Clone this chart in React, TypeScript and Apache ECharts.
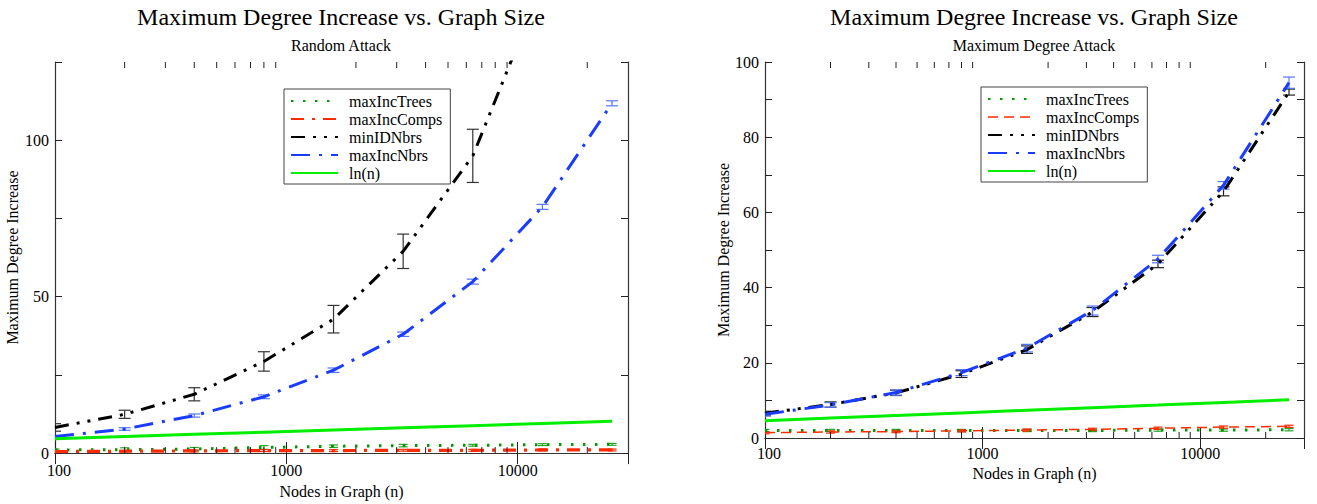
import React, { useEffect, useRef } from 'react';
import * as echarts from 'echarts';

// ---------- data ----------
const nodes = [100, 200, 400, 800, 1600, 3200, 6400, 12800, 25600];
const lnN = [4.61, 5.30, 5.99, 6.68, 7.38, 8.07, 8.76, 9.46, 10.15];

// Random Attack
const raTrees = [1.0, 1.1, 1.3, 1.8, 2.2, 2.4, 2.5, 2.7, 2.8];
const raTreesErr = [0.3, 0.6, 0.5, 0.6, 0.4, 0.4, 0.3, 0.3, 0.3];
const raComps = [0.5, 0.6, 0.7, 0.8, 0.8, 0.9, 0.9, 1.0, 1.0];
const raCompsErr = [0.2, 0.2, 0.3, 0.3, 0.3, 0.3, 0.3, 0.3, 0.3];
const raMinID = [8.2, 12.4, 18.8, 29.3, 42.8, 64.5, 95.0, 150, 230];
const raMinIDErr = [1.2, 1.3, 2.1, 3.1, 4.4, 5.5, 8.5, 12, 18];
const raMaxInc = [5.3, 7.7, 12.0, 18.0, 26.5, 38.0, 54.8, 78.7, 111.8];
const raMaxIncErr = [0.3, 0.4, 0.5, 0.6, 0.7, 0.7, 0.8, 0.8, 0.8];

// Maximum Degree Attack
const mdTrees = [2.0, 2.0, 2.0, 2.0, 2.0, 2.0, 2.1, 2.1, 2.2];
const mdTreesErr = [0.3, 0.3, 0.3, 0.3, 0.3, 0.3, 0.3, 0.3, 0.3];
const mdComps = [1.4, 1.6, 1.7, 1.9, 2.1, 2.3, 2.6, 2.9, 3.1];
const mdCompsErr = [0.3, 0.3, 0.3, 0.3, 0.3, 0.3, 0.3, 0.3, 0.3];
const mdMinID = [6.6, 8.9, 12.0, 17.0, 23.5, 33.5, 46.3, 65.6, 92.0];
const mdMinIDErr = [0.5, 0.7, 0.7, 0.9, 1.0, 1.2, 1.0, 1.2, 0.8];
const mdMaxInc = [6.3, 8.8, 12.1, 17.4, 23.9, 33.9, 47.6, 67.2, 94.5];
const mdMaxIncErr = [0.5, 0.6, 0.7, 0.8, 1.0, 1.2, 1.0, 1.0, 1.5];

const xTicksMinor = [200, 300, 400, 500, 600, 700, 800, 900, 2000, 3000, 4000, 5000, 6000, 7000, 8000, 9000, 20000];

const mainTitle = 'Maximum Degree Increase vs. Graph Size';
const subTitles = ['Random Attack', 'Maximum Degree Attack'];
const xName = 'Nodes in Graph (n)';
const yName = 'Maximum Degree Increase';
const seriesNames = ['maxIncTrees', 'maxIncComps', 'minIDNbrs', 'maxIncNbrs', 'ln(n)'];

// ---------- styling ----------
const FONT = "'Liberation Serif', 'DejaVu Serif', serif";
const C_TREES = '#009a00';
const C_COMPS = '#ff2a00';
const C_MINID = '#000000';
const C_MAXINC = '#1a3cff';
const C_LN = '#00ee00';

const grids = [
  { left: 55, top: 62, width: 573, height: 400 },
  { left: 765, top: 62, width: 539, height: 376 },
];

function pairs(vals: number[]) {
  return nodes.map((n, i) => [n, vals[i]]);
}

function lineSeries(name: string, vals: number[], g: number, color: string, type: any, width: number, z: number) {
  return {
    type: 'line',
    name,
    xAxisIndex: g * 2,
    yAxisIndex: g * 2,
    data: pairs(vals),
    symbol: 'none',
    showSymbol: false,
    lineStyle: { color, width, type, cap: 'butt' },
    itemStyle: { color },
    z,
    silent: true,
  };
}

function errSeries(vals: number[], errs: number[], g: number, color: string, capW: number, z: number) {
  return {
    type: 'custom',
    xAxisIndex: g * 2,
    yAxisIndex: g * 2,
    clip: true,
    silent: true,
    z,
    data: nodes.map((n, i) => [n, vals[i] - errs[i], vals[i] + errs[i]]),
    encode: { x: 0, y: [1, 2] },
    renderItem: (params: any, api: any) => {
      const x = api.value(0);
      const a = api.coord([x, api.value(2)]);
      const b = api.coord([x, api.value(1)]);
      const h = capW / 2;
      const st = { stroke: color, lineWidth: 1.2 };
      return {
        type: 'group',
        children: [
          { type: 'line', shape: { x1: a[0], y1: a[1], x2: b[0], y2: b[1] }, style: st },
          { type: 'line', shape: { x1: a[0] - h, y1: a[1], x2: a[0] + h, y2: a[1] }, style: st },
          { type: 'line', shape: { x1: b[0] - h, y1: b[1], x2: b[0] + h, y2: b[1] }, style: st },
        ],
      };
    },
  };
}

function minorTickSeries(g: number) {
  return {
    type: 'custom',
    xAxisIndex: g * 2,
    yAxisIndex: g * 2,
    silent: true,
    z: 20,
    data: xTicksMinor.map((v) => [v, 0]),
    encode: { x: 0, y: 1 },
    renderItem: (params: any, api: any) => {
      const cs = params.coordSys;
      const x = api.coord([api.value(0), 0])[0];
      const st = { stroke: '#222', lineWidth: 1 };
      const bottom = cs.y + cs.height;
      return {
        type: 'group',
        children: [
          { type: 'line', shape: { x1: x, y1: bottom, x2: x, y2: bottom - 6 }, style: st },
          { type: 'line', shape: { x1: x, y1: cs.y, x2: x, y2: cs.y + 6 }, style: st },
        ],
      };
    },
  };
}

const textBase = { fontFamily: FONT, color: '#000' };

function xAxes(g: number, labelMargin: number) {
  const common = {
    type: 'log',
    logBase: 10,
    min: 100,
    max: 30000,
    gridIndex: g,
    splitLine: { show: false },
    axisLine: { show: true, lineStyle: { color: '#333', width: 1.2 } },
    axisTick: { show: true, inside: true, length: 11, lineStyle: { color: '#222', width: 1 } },
  };
  return [
    {
      ...common,
      position: 'bottom',
      axisLabel: {
        ...textBase,
        fontSize: 16,
        margin: labelMargin,
        showMaxLabel: false,
        formatter: (v: number) => {
          const r = Math.round(v);
          return r === 100 ? '{first|' + r + '}' : String(r);
        },
        rich: { first: { ...textBase, fontSize: 16, padding: [0, 0, 0, 8] } },
      },
      name: xName,
      nameLocation: 'middle',
      nameGap: 24,
      nameTextStyle: { ...textBase, fontSize: 16 },
    },
    { ...common, position: 'top', axisLabel: { show: false } },
  ];
}

function yAxes(g: number, max: number, interval: number, labelStep: number, nameGap: number) {
  const common = {
    type: 'value',
    min: 0,
    max,
    interval,
    gridIndex: g,
    splitLine: { show: false },
    axisLine: { show: true, lineStyle: { color: '#333', width: 1.2 } },
    axisTick: { show: true, inside: true, length: 7, lineStyle: { color: '#222', width: 1 } },
  };
  return [
    {
      ...common,
      position: 'left',
      axisLabel: {
        ...textBase,
        fontSize: 16,
        margin: 6,
        formatter: (v: number) => (v % labelStep === 0 ? String(v) : ''),
      },
      name: yName,
      nameLocation: 'middle',
      nameGap,
      nameTextStyle: { ...textBase, fontSize: 16 },
    },
    { ...common, position: 'right', axisLabel: { show: false } },
  ];
}

const hiddenSymbol = { opacity: 0, borderWidth: 0 };

function legendFor(left: number, top: number, compsLine: any) {
  return {
    orient: 'vertical',
    left,
    top,
    selectedMode: false,
    backgroundColor: '#fff',
    borderColor: '#444',
    borderWidth: 1,
    padding: [4, 8, 3, 6],
    itemWidth: 47,
    itemHeight: 12,
    itemGap: 2,
    itemStyle: hiddenSymbol,
    textStyle: { ...textBase, fontSize: 16, lineHeight: 15, padding: [0, 0, 0, 6] },
    data: [
      { name: seriesNames[0] },
      compsLine ? { name: seriesNames[1], lineStyle: compsLine } : { name: seriesNames[1] },
      { name: seriesNames[2] },
      { name: seriesNames[3] },
      { name: seriesNames[4] },
    ],
  };
}

const DOT = [2.5, 9.5];
const BLUE_PAT = [19, 9, 3, 9];
const BLACK_PAT = [14, 8, 3, 8, 3, 8];
const RED_DASHDOT = [13, 8, 3, 8];
const RED_DASH = [10, 6];

const titleStyle = { ...textBase, fontSize: 24, fontWeight: 'normal' };
const subStyle = { ...textBase, fontSize: 16, fontWeight: 'normal' };

const option: any = {
  animation: false,
  backgroundColor: '#fff',
  title: [
    { text: mainTitle, left: 341, top: 5, padding: 0, textAlign: 'center', textStyle: titleStyle },
    { text: subTitles[0], left: 341, top: 37, padding: 0, textAlign: 'center', textStyle: subStyle },
    { text: mainTitle, left: 1034, top: 5, padding: 0, textAlign: 'center', textStyle: titleStyle },
    { text: subTitles[1], left: 1034, top: 37, padding: 0, textAlign: 'center', textStyle: subStyle },
  ],
  grid: grids.map((g) => ({ ...g, containLabel: false })),
  xAxis: [...xAxes(0, 9), ...xAxes(1, 7)],
  yAxis: [...yAxes(0, 125, 25, 50, 35), ...yAxes(1, 100, 10, 20, 33)],
  legend: [
    legendFor(284, 89, null),
    legendFor(981, 87, { type: RED_DASH, width: 1.5, color: C_COMPS }),
  ],
  series: [
    minorTickSeries(0),
    minorTickSeries(1),
    // Random attack
    errSeries(raTrees, raTreesErr, 0, '#2aa52a', 9, 3),
    errSeries(raComps, raCompsErr, 0, C_COMPS, 9, 3),
    errSeries(raMinID, raMinIDErr, 0, '#333', 12, 3),
    errSeries(raMaxInc, raMaxIncErr, 0, '#5577ff', 12, 3),
    lineSeries(seriesNames[0], raTrees, 0, C_TREES, DOT, 3, 4),
    lineSeries(seriesNames[1], raComps, 0, C_COMPS, RED_DASHDOT, 3.2, 4),
    lineSeries(seriesNames[2], raMinID, 0, C_MINID, BLACK_PAT, 3, 4),
    lineSeries(seriesNames[3], raMaxInc, 0, C_MAXINC, BLUE_PAT, 3, 4),
    lineSeries(seriesNames[4], lnN, 0, C_LN, 'solid', 3, 4),
    // Maximum degree attack
    errSeries(mdTrees, mdTreesErr, 1, '#2aa52a', 9, 3),
    errSeries(mdComps, mdCompsErr, 1, C_COMPS, 9, 3),
    errSeries(mdMinID, mdMinIDErr, 1, '#222', 12, 3),
    errSeries(mdMaxInc, mdMaxIncErr, 1, '#5577ff', 12, 3),
    lineSeries(seriesNames[0], mdTrees, 1, C_TREES, DOT, 3, 4),
    lineSeries(seriesNames[1], mdComps, 1, C_COMPS, RED_DASH, 1.5, 4),
    lineSeries(seriesNames[2], mdMinID, 1, C_MINID, BLACK_PAT, 3, 4),
    lineSeries(seriesNames[3], mdMaxInc, 1, C_MAXINC, BLUE_PAT, 3, 4),
    lineSeries(seriesNames[4], lnN, 1, C_LN, 'solid', 3, 4),
  ],
};

export default function App() {
  const ref = useRef<HTMLDivElement>(null);
  useEffect(() => {
    if (!ref.current) return;
    const chart = echarts.init(ref.current, null, { renderer: 'svg' });
    chart.setOption(option);
    return () => chart.dispose();
  }, []);
  return (
    <div
      ref={ref}
      style={{ position: 'absolute', left: 0, top: 0, width: 1317, height: 504, background: '#fff' }}
    />
  );
}
